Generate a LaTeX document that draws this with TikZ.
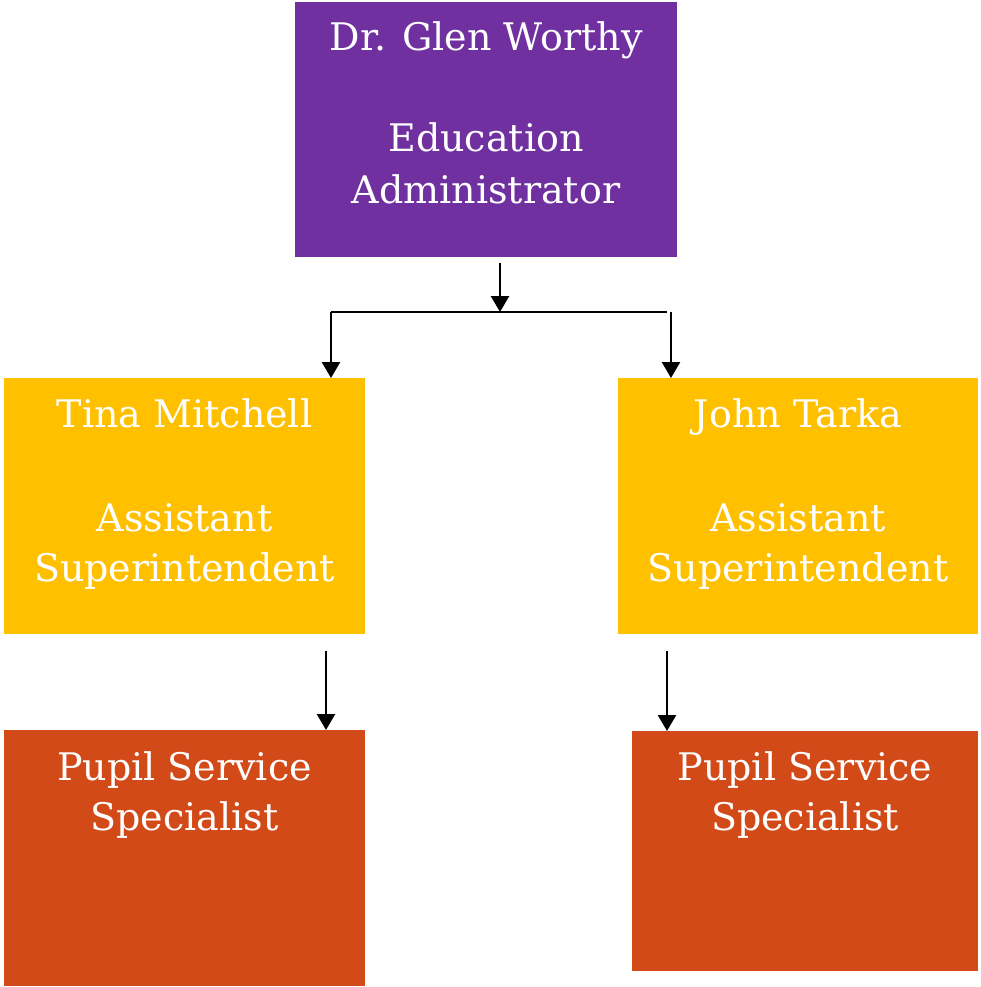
\documentclass[tikz,border=0pt]{standalone}
\usepackage{fontspec}
\setmainfont{DejaVu Serif}
\usetikzlibrary{arrows.meta}
\definecolor{cpurple}{HTML}{7030A0}
\definecolor{cyellow}{HTML}{FFC000}
\definecolor{corange}{HTML}{D24A18}
\tikzset{
  box/.style={rectangle, inner sep=0pt, outer sep=0pt, draw=none},
  lbl/.style={anchor=base, text=white, inner sep=0pt, font=\fontsize{38}{44}\selectfont},
  arr/.style={line width=2.6pt, -{Triangle[length=16pt,width=18pt]}},
  ln/.style={line width=2.6pt}
}
\begin{document}
\begin{tikzpicture}[x=1pt,y=-1pt]
\useasboundingbox (0,0) rectangle (981,987);
% boxes
\node[box, fill=cpurple, minimum width=382pt, minimum height=255pt] (top) at (486,129.5) {};
\node[box, fill=cyellow, minimum width=361pt, minimum height=256pt] (yl) at (184.5,506) {};
\node[box, fill=cyellow, minimum width=360pt, minimum height=256pt] (yr) at (798,506) {};
\node[box, fill=corange, minimum width=361pt, minimum height=256pt] (ol) at (184.5,858) {};
\node[box, fill=corange, minimum width=346pt, minimum height=240pt] (or) at (805,851) {};
% texts
\node[lbl] (t1) at (486,51) {Dr. Glen Worthy};
\node[lbl] (t2) at (486,152) {Education};
\node[lbl] (t3) at (486,204) {Administrator};
\node[lbl] (l1) at (184.5,427) {Tina Mitchell};
\node[lbl] (l2) at (184.5,531) {Assistant};
\node[lbl] (l3) at (184.5,581) {Superintendent};
\node[lbl] (r1) at (798,427) {John Tarka};
\node[lbl] (r2) at (798,531) {Assistant};
\node[lbl] (r3) at (798,581) {Superintendent};
\node[lbl] (p1) at (184.5,780) {Pupil Service};
\node[lbl] (p2) at (184.5,830) {Specialist};
\node[lbl] (q1) at (805,780) {Pupil Service};
\node[lbl] (q2) at (805,830) {Specialist};
% connectors
\coordinate (s0) at (500,263);
\coordinate (j) at (500,312);
\coordinate (hl) at (331,312);
\coordinate (hr) at (667,312);
\coordinate (sr) at (671,312);
\coordinate (el) at (331,378);
\coordinate (er) at (671,378);
\coordinate (sl2) at (326,651);
\coordinate (el2) at (326,730);
\coordinate (sr2) at (667,651);
\coordinate (er2) at (667,731);
\draw[arr] (s0) -- (j);
\draw[ln] (hr) -- (hl);
\draw[arr] (hl) -- (el);
\draw[arr] (sr) -- (er);
\draw[arr] (sl2) -- (el2);
\draw[arr] (sr2) -- (er2);
\end{tikzpicture}
\end{document}
